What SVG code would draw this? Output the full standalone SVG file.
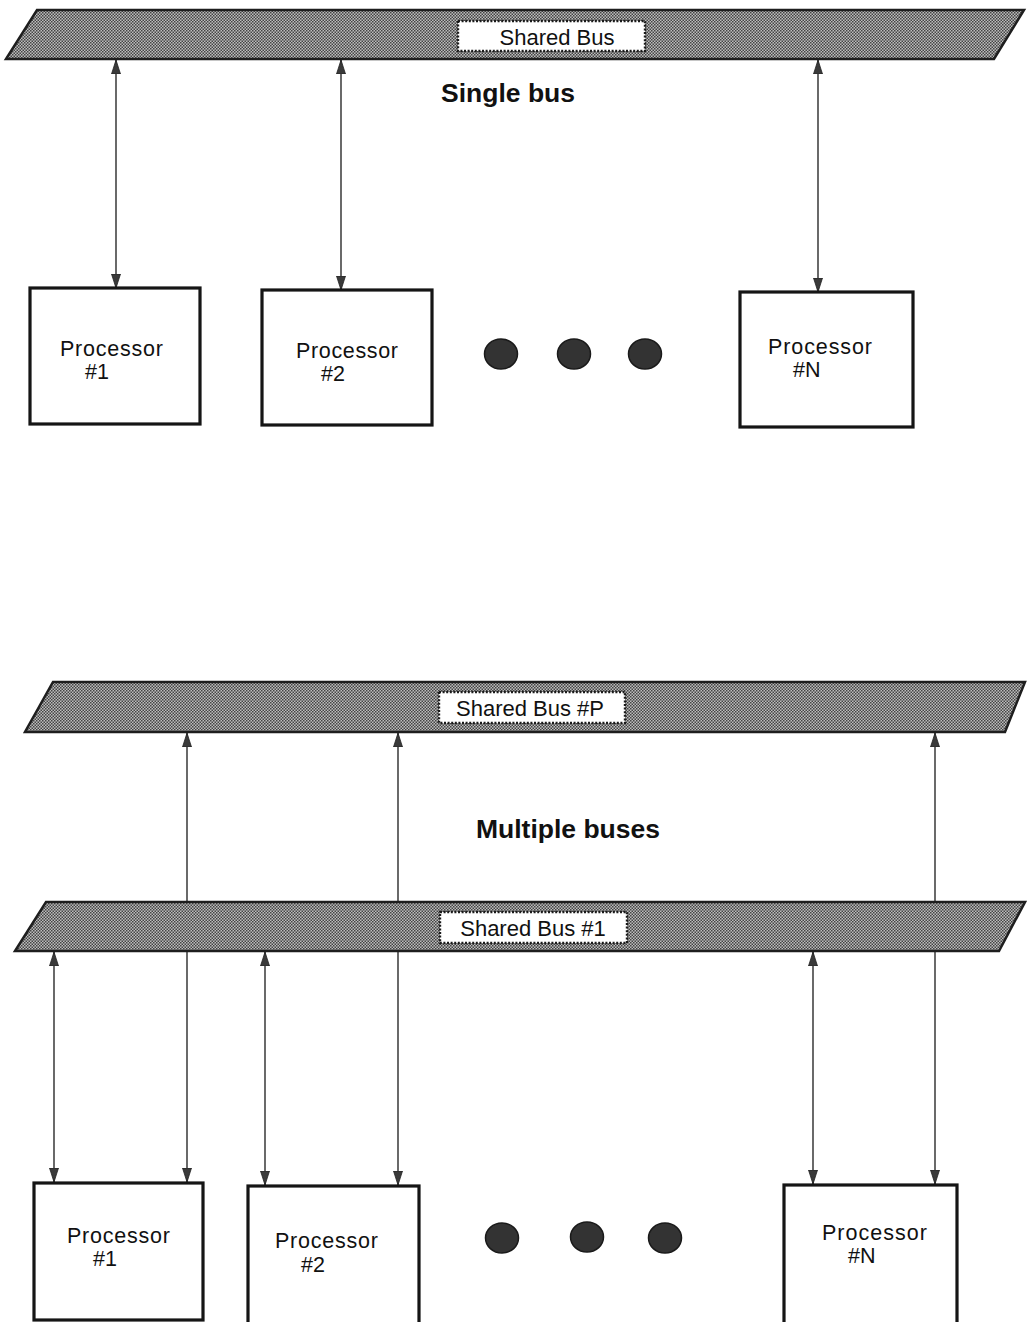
<svg xmlns="http://www.w3.org/2000/svg" width="1027" height="1322" viewBox="0 0 1027 1322">
  <defs>
    <!-- halftone screen used for the bus bands -->
    <pattern id="screen" width="3" height="3" patternUnits="userSpaceOnUse">
      <rect width="3" height="3" fill="#bdbdbd"/>
      <rect x="0" y="0" width="1.5" height="1.5" fill="#444"/>
      <rect x="1.5" y="1.5" width="1.5" height="1.5" fill="#444"/>
    </pattern>
    <marker id="head" markerUnits="userSpaceOnUse" markerWidth="14" markerHeight="10" refX="14" refY="5" orient="auto-start-reverse">
      <path d="M0,0.5 L14,5 L0,9.5 z" fill="#3a3a3a" stroke="#222" stroke-width="0.8"/>
    </marker>
    <style>
      .bus { fill: url(#screen); stroke: #1e1e1e; stroke-width: 2.5; stroke-linejoin: miter; }
      .tag { fill: #ffffff; stroke: #1a1a1a; stroke-width: 2.4; stroke-dasharray: 2 1.6; }
      .tagtext { font-family: "Liberation Sans", Arial, sans-serif; font-size: 22px; fill: #111; text-anchor: middle; }
      .title { font-family: "Liberation Sans", Arial, sans-serif; font-size: 26.5px; font-weight: bold; fill: #111; text-anchor: middle; }
      .box { fill: #ffffff; stroke: #151515; stroke-width: 3.2; }
      .label { font-family: "Liberation Sans", Arial, sans-serif; font-size: 21.5px; fill: #111; }
      .dot { fill: #333; stroke: #1a1a1a; stroke-width: 1.5; }
      .link { stroke: #2a2a2a; stroke-width: 1.4; fill: none; marker-start: url(#head); marker-end: url(#head); }
    </style>
  </defs>

  <rect width="1027" height="1322" fill="#ffffff"/>

  <!-- connectors (drawn first so the lower bus band passes over the long links) -->
  <g id="connectors">
    <line class="link" x1="116" y1="60" x2="116" y2="288"/>
    <line class="link" x1="341" y1="60" x2="341" y2="290"/>
    <line class="link" x1="818" y1="60" x2="818" y2="292"/>

    <line class="link" x1="187" y1="733" x2="187" y2="1182"/>
    <line class="link" x1="398" y1="733" x2="398" y2="1185"/>
    <line class="link" x1="935" y1="733" x2="935" y2="1184"/>

    <line class="link" x1="54" y1="952" x2="54" y2="1182"/>
    <line class="link" x1="265" y1="952" x2="265" y2="1185"/>
    <line class="link" x1="813" y1="952" x2="813" y2="1184"/>
  </g>

  <!-- single shared bus -->
  <g id="bus-single">
    <polygon class="bus" points="37,10 1024,10 994,59 6,59"/>
    <rect class="tag" x="458" y="21" width="187" height="30"/>
    <text class="tagtext" x="557" y="45">Shared Bus</text>
  </g>
  <text id="title-single" class="title" x="508" y="102">Single bus</text>

  <g id="proc-1">
    <rect class="box" x="30" y="288" width="170" height="136"/>
    <text class="label"><tspan x="60" y="356" textLength="103">Processor</tspan><tspan x="85" y="379">#1</tspan></text>
  </g>
  <g id="proc-2">
    <rect class="box" x="262" y="290" width="170" height="135"/>
    <text class="label"><tspan x="296" y="358" textLength="102">Processor</tspan><tspan x="321" y="381">#2</tspan></text>
  </g>
  <g id="ellipsis-top">
    <ellipse class="dot" cx="501" cy="354" rx="16.5" ry="15"/>
    <ellipse class="dot" cx="574" cy="354" rx="16.5" ry="15"/>
    <ellipse class="dot" cx="645" cy="354" rx="16.5" ry="15"/>
  </g>
  <g id="proc-n">
    <rect class="box" x="740" y="292" width="173" height="135"/>
    <text class="label"><tspan x="768" y="354" textLength="104">Processor</tspan><tspan x="793" y="377">#N</tspan></text>
  </g>

  <!-- multiple shared buses -->
  <g id="bus-p">
    <polygon class="bus" points="53,682 1025,682 1005,732 25,732"/>
    <rect class="tag" x="439" y="692" width="186" height="31"/>
    <text class="tagtext" x="530" y="716">Shared Bus #P</text>
  </g>
  <text id="title-multi" class="title" x="568" y="838">Multiple buses</text>
  <g id="bus-1">
    <polygon class="bus" points="46,902 1025,902 999,951 15,951"/>
    <rect class="tag" x="440" y="912" width="187" height="31"/>
    <text class="tagtext" x="533" y="936">Shared Bus #1</text>
  </g>

  <g id="proc-1b">
    <rect class="box" x="34" y="1183" width="169" height="137"/>
    <text class="label"><tspan x="67" y="1243" textLength="103">Processor</tspan><tspan x="93" y="1266">#1</tspan></text>
  </g>
  <g id="proc-2b">
    <rect class="box" x="248" y="1186" width="171" height="140"/>
    <text class="label"><tspan x="275" y="1248" textLength="103">Processor</tspan><tspan x="301" y="1272">#2</tspan></text>
  </g>
  <g id="ellipsis-bottom">
    <ellipse class="dot" cx="502" cy="1238" rx="16.5" ry="15"/>
    <ellipse class="dot" cx="587" cy="1237" rx="16.5" ry="15"/>
    <ellipse class="dot" cx="665" cy="1238" rx="16.5" ry="15"/>
  </g>
  <g id="proc-nb">
    <rect class="box" x="784" y="1185" width="173" height="140"/>
    <text class="label"><tspan x="822" y="1240" textLength="105">Processor</tspan><tspan x="848" y="1263">#N</tspan></text>
  </g>
</svg>
